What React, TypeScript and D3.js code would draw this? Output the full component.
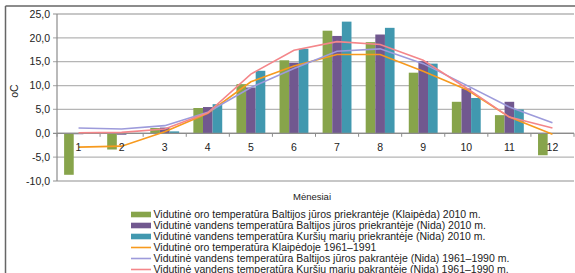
import React from 'react';
import * as d3 from 'd3';

const W = 575;
const H = 273;

// months on the category axis
const months = ['1', '2', '3', '4', '5', '6', '7', '8', '9', '10', '11', '12'];

// bar series (2010)
const airKlaipeda2010 = [-8.7, -3.4, 1.1, 5.3, 10.3, 15.3, 21.5, 19.1, 12.7, 6.6, 3.8, -4.6];
const balticNida2010 = [-0.2, -0.3, 1.2, 5.5, 9.6, 14.8, 20.4, 20.7, 15.1, 9.4, 6.6, 0.0];
const lagoonNida2010 = [0.0, 0.0, 0.4, 6.1, 13.1, 17.7, 23.4, 22.1, 14.6, 7.4, 5.0, 0.0];

// line series (long-term averages)
const airKlaipeda6191 = [-2.9, -2.7, 0.3, 4.2, 10.8, 14.1, 16.5, 16.5, 13.0, 9.2, 3.4, -0.2];
const balticNida6190 = [1.1, 0.9, 1.6, 4.4, 9.6, 13.6, 17.2, 17.7, 14.6, 10.1, 5.5, 2.2];
const lagoonNida6190 = [0.1, 0.2, 0.9, 4.3, 12.4, 17.4, 19.2, 18.6, 15.3, 9.5, 3.4, 1.1];

const yTicks = [-10, -5, 0, 5, 10, 15, 20, 25];

const barSeries = [
  { name: 'Vidutinė oro temperatūra Baltijos jūros priekrantėje (Klaipėda) 2010 m.', values: airKlaipeda2010, color: '#87A44B' },
  { name: 'Vidutinė vandens temperatūra Baltijos jūros priekrantėje (Nida) 2010 m.', values: balticNida2010, color: '#71588F' },
  { name: 'Vidutinė vandens temperatūra Kuršių marių priekrantėje (Nida) 2010 m.', values: lagoonNida2010, color: '#4198AF' },
];

const lineSeries = [
  { name: 'Vidutinė oro temperatūra Klaipėdoje 1961–1991', values: airKlaipeda6191, color: '#F79A1E' },
  { name: 'Vidutinė vandens temperatūra Baltijos jūros pakrantėje (Nida) 1961–1990 m.', values: balticNida6190, color: '#9D9BDB' },
  { name: 'Vidutinė vandens temperatūra Kuršių marių pakrantėje (Nida) 1961–1990 m.', values: lagoonNida6190, color: '#F4868A' },
];

const font = '"Liberation Sans", Arial, sans-serif';

export default function App() {
  const left = 57;
  const right = 574;

  const x = d3.scaleBand<string>().domain(months).range([left, right]);
  const y = d3.scaleLinear().domain([-10, 25]).range([181, 14]);

  const bw = x.bandwidth();
  const pad = bw * 0.165;
  const xSub = d3.scaleBand<number>().domain([0, 1, 2]).range([pad, bw - pad]);

  const line = d3.line<number>()
    .x((_, i) => (x(months[i]) as number) + bw / 2)
    .y((d) => y(d));

  const legendItems = [...barSeries.map((s) => ({ ...s, kind: 'bar' })), ...lineSeries.map((s) => ({ ...s, kind: 'line' }))];

  return (
    <svg width={W} height={H} style={{ position: 'absolute', left: 0, top: 0, background: '#fff' }}>
      {/* outer frame */}
      <line x1={5.5} x2={W} y1={6} y2={6} stroke="#666" strokeWidth={1.5} />
      <line x1={5.5} x2={5.5} y1={6} y2={H} stroke="#666" strokeWidth={1.5} />

      {/* gridlines + y ticks */}
      {yTicks.map((t) => (
        <g key={t}>
          <line x1={53} x2={right} y1={y(t)} y2={y(t)} stroke={t === 0 ? '#8C8C8C' : '#B5B5B5'} strokeWidth={1.3} />
          <text x={50} y={y(t)} dy="0.35em" textAnchor="end" fontFamily={font} fontSize={10.5} fill="#222">
            {d3.format('.1f')(t).replace('.', ',').replace('−', '-')}
          </text>
        </g>
      ))}
      <line x1={left} x2={left} y1={14} y2={181} stroke="#8C8C8C" strokeWidth={1.2} />

      <text transform={`translate(18,91) rotate(-90)`} textAnchor="middle" fontFamily={font} fontSize={10.5} fill="#222">oC</text>

      {/* bars */}
      {barSeries.map((s, si) => (
        <g key={s.name}>
          {s.values.map((v, i) => (
            <rect
              key={i}
              x={(x(months[i]) as number) + (xSub(si) as number)}
              width={xSub.bandwidth()}
              y={y(Math.max(0, v))}
              height={Math.abs(y(v) - y(0))}
              fill={s.color}
            />
          ))}
        </g>
      ))}

      {/* category axis */}
      <line x1={left} x2={right} y1={y(0)} y2={y(0)} stroke="#8C8C8C" strokeWidth={1.3} />
      {months.map((m) => (
        <line key={m} x1={(x(m) as number) + bw} x2={(x(m) as number) + bw} y1={y(0)} y2={y(0) + 3.5} stroke="#8C8C8C" strokeWidth={1} />
      ))}
      <line x1={left} x2={left} y1={y(0)} y2={y(0) + 3.5} stroke="#8C8C8C" strokeWidth={1} />

      {/* lines */}
      {lineSeries.map((s) => (
        <path key={s.name} d={line(s.values) as string} fill="none" stroke={s.color} strokeWidth={1.6} />
      ))}

      {months.map((m) => (
        <text key={m} x={(x(m) as number) + bw / 2} y={147} dy="0.35em" textAnchor="middle" fontFamily={font} fontSize={10.5} fill="#222">
          {m}
        </text>
      ))}

      <text x={312} y={197} dy="0.35em" textAnchor="middle" fontFamily={font} fontSize={9.5} fill="#222">Mėnesiai</text>

      {/* legend */}
      {legendItems.map((it, i) => {
        const cy = 214.5 + i * 11;
        return (
          <g key={it.name}>
            {it.kind === 'bar'
              ? <rect x={131} y={cy - 2.8} width={20} height={5.6} fill={it.color} />
              : <line x1={131} x2={151} y1={cy} y2={cy} stroke={it.color} strokeWidth={1.6} />}
            <text x={153.5} y={cy} dy="0.35em" fontFamily={font} fontSize={10.5} fill="#222">{it.name}</text>
          </g>
        );
      })}
    </svg>
  );
}
